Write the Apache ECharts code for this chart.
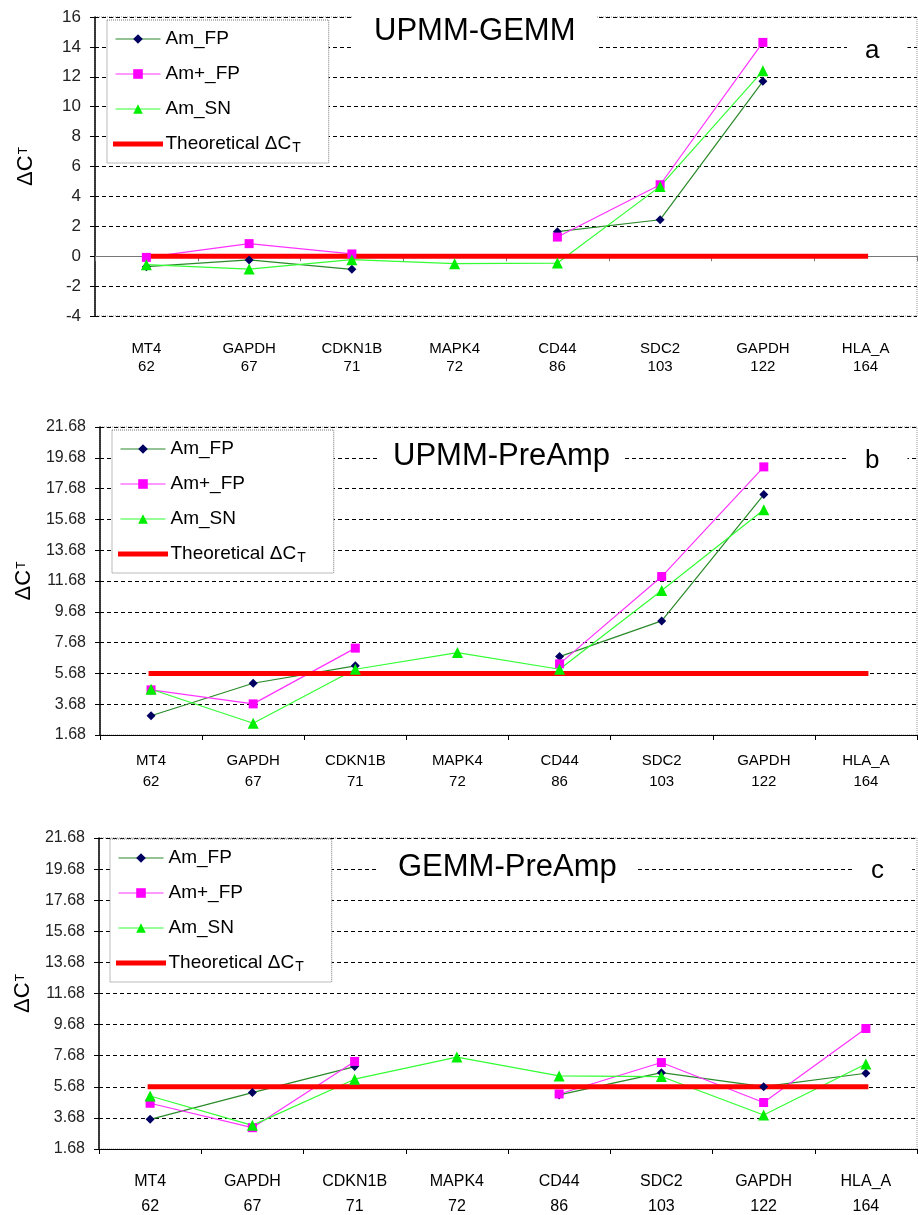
<!DOCTYPE html>
<html>
<head>
<meta charset="utf-8">
<script src="https://cdn.jsdelivr.net/npm/echarts@6/dist/echarts.min.js"></script>
<style>
html, body { margin: 0; padding: 0; background: #fff; }
#chart { width: 918px; height: 1215px; }
</style>
</head>
<body>
<div id="chart"></div>
<script>
const genes = ['MT4', 'GAPDH', 'CDKN1B', 'MAPK4', 'CD44', 'SDC2', 'GAPDH', 'HLA_A']
const ampliconSizes = [62, 67, 71, 72, 86, 103, 122, 164]

// a: UPMM-GEMM
const a_amFP = [-0.70, -0.25, -0.88, null, 1.64, 2.44, 11.7, null]
const a_amPlusFP = [-0.08, 0.84, 0.15, null, 1.28, 4.78, 14.3, null]
const a_amSN = [-0.57, -0.86, -0.23, -0.5, -0.46, 4.67, 12.4, null]
const a_theo = [0, 0, 0, 0, 0, 0, 0, 0]

// b: UPMM-PreAmp
const b_amFP = [2.93, 5.04, 6.17, null, 6.77, 9.09, 17.29, null]
const b_amPlusFP = [4.61, 3.70, 7.32, null, 6.30, 11.97, 19.09, null]
const b_amSN = [4.65, 2.44, 5.95, 7.03, 5.95, 11.06, 16.31, null]
const b_theo = [5.68, 5.68, 5.68, 5.68, 5.68, 5.68, 5.68, 5.68]

// c: GEMM-PreAmp
const c_amFP = [3.59, 5.31, 6.98, null, 5.16, 6.59, 5.69, 6.55]
const c_amPlusFP = [4.62, 3.05, 7.31, null, 5.22, 7.24, 4.67, 9.43]
const c_amSN = [5.09, 3.20, 6.17, 7.59, 6.38, 6.34, 3.87, 7.15]
const c_theo = [5.68, 5.68, 5.68, 5.68, 5.68, 5.68, 5.68, 5.68]

const THEO = 'Theoretical ΔCT'
const seriesNames = ['Am_FP', 'Am+_FP', 'Am_SN', THEO]
const xLabels = genes.map((g, i) => g + '\n' + ampliconSizes[i])

const FONT = 'Liberation Sans'

const panels = [
  {
    data: [a_amFP, a_amPlusFP, a_amSN, a_theo],
    title: 'UPMM-GEMM', titleBox: { left: 353, top: 11, padH: 21 },
    tag: 'a', tagBox: { left: 847, top: 34 },
    grid: { left: 95, top: 17, width: 822, height: 299 },
    y: { min: -4, max: 16, interval: 2, fontSize: 17, fmt: v => String(v) },
    xLine: '#777', xMargin: 24, xFont: 15, xLineHeight: 18,
    legend: { left: 107, top: 20 }
  },
  {
    data: [b_amFP, b_amPlusFP, b_amSN, b_theo],
    title: 'UPMM-PreAmp', titleBox: { left: 379, top: 436, padH: 14 },
    tag: 'b', tagBox: { left: 847, top: 444 },
    grid: { left: 100, top: 427, width: 817, height: 308 },
    y: { min: 1.68, max: 21.68, interval: 2, fontSize: 16, fmt: v => v.toFixed(2) },
    xLine: '#000', xMargin: 15, xFont: 15, xLineHeight: 21,
    legend: { left: 112, top: 430 }
  },
  {
    data: [c_amFP, c_amPlusFP, c_amSN, c_theo],
    title: 'GEMM-PreAmp', titleBox: { left: 378, top: 847, padH: 20 },
    tag: 'c', tagBox: { left: 853, top: 854 },
    grid: { left: 99, top: 838, width: 818, height: 311 },
    y: { min: 1.68, max: 21.68, interval: 2, fontSize: 16, fmt: v => v.toFixed(2) },
    xLine: '#000', xMargin: 20, xFont: 16, xLineHeight: 25,
    legend: { left: 110, top: 839 }
  }
]

const seriesStyles = [
  { symbol: 'diamond', symbolSize: 9, itemStyle: { color: '#000060' }, lineStyle: { color: '#2a8a2a', width: 1.2 } },
  { symbol: 'rect', symbolSize: 9, itemStyle: { color: '#ff00ff' }, lineStyle: { color: '#ff33ff', width: 1.2 } },
  { symbol: 'triangle', symbolSize: 11, itemStyle: { color: '#00ee00' }, lineStyle: { color: '#33ff33', width: 1.2 } },
  { symbol: 'none', itemStyle: { color: '#ff0000' }, lineStyle: { color: '#ff0000', width: 5, cap: 'square' } }
]

const legendData = seriesNames.map(n => n === THEO
  ? { name: n, itemStyle: { opacity: 0 }, lineStyle: { width: 5 } }
  : { name: n })

const grids = [], xAxes = [], yAxes = [], series = [], titles = [], legends = []

panels.forEach((p, i) => {
  grids.push({
    ...p.grid,
    outerBoundsMode: 'none',
    show: true,
    backgroundColor: 'transparent',
    borderColor: '#999',
    borderWidth: 1,
    borderType: 'dotted'
  })
  xAxes.push({
    gridIndex: i,
    type: 'category',
    data: xLabels,
    boundaryGap: true,
    axisLine: { onZero: true, lineStyle: { color: p.xLine, width: 1.2 } },
    axisTick: { show: true, length: 5, lineStyle: { color: p.xLine } },
    axisLabel: {
      interval: 0,
      margin: p.xMargin,
      fontFamily: FONT,
      fontSize: p.xFont,
      lineHeight: p.xLineHeight,
      color: '#000'
    },
    splitLine: { show: false }
  })
  yAxes.push({
    gridIndex: i,
    type: 'value',
    min: p.y.min,
    max: p.y.max,
    interval: p.y.interval,
    axisLine: { show: true, lineStyle: { color: '#000', width: 1.5 } },
    axisTick: { show: true, length: 5, lineStyle: { color: '#000' } },
    axisLabel: {
      margin: 14,
      fontFamily: FONT,
      fontSize: p.y.fontSize,
      color: '#222',
      formatter: p.y.fmt
    },
    splitLine: { show: true, lineStyle: { color: '#000', width: 1, type: [4, 3] } },
    name: '{d|ΔC}{t|T}',
    nameLocation: 'middle',
    nameRotate: 90,
    nameGap: 58,
    nameTextStyle: {
      rich: {
        d: { fontFamily: FONT, fontSize: 22, color: '#000' },
        t: { fontFamily: FONT, fontSize: 12, color: '#000', padding: [0, 0, 5, 1] }
      }
    }
  })
  p.data.forEach((vals, k) => {
    series.push({
      name: seriesNames[k],
      type: 'line',
      xAxisIndex: i,
      yAxisIndex: i,
      data: vals,
      connectNulls: false,
      showAllSymbol: true,
      ...seriesStyles[k]
    })
  })
  titles.push({
    text: p.title,
    left: p.titleBox.left,
    top: p.titleBox.top,
    padding: [2, p.titleBox.padH, 2, p.titleBox.padH],
    backgroundColor: '#fff',
    textStyle: { fontFamily: FONT, fontSize: 31, lineHeight: 36, fontWeight: 'normal', color: '#000' }
  })
  titles.push({
    text: p.tag,
    left: p.tagBox.left,
    top: p.tagBox.top,
    padding: [4, 28, 6, 18],
    backgroundColor: '#fff',
    textStyle: { fontFamily: FONT, fontSize: 26, lineHeight: 26, fontWeight: 'normal', color: '#000' }
  })
  legends.push({
    orient: 'vertical',
    left: p.legend.left,
    top: p.legend.top,
    padding: [8, 28, 8, 6],
    itemGap: 13,
    itemWidth: 45,
    itemHeight: 12,
    backgroundColor: '#fff',
    borderColor: '#777',
    borderWidth: 1,
    borderType: 'dotted',
    selectedMode: false,
    data: legendData,
    lineStyle: { width: 1.2 },
    formatter: name => name === THEO ? '{n|Theoretical ΔC}{s|T}' : name,
    textStyle: {
      fontFamily: FONT,
      fontSize: 19,
      lineHeight: 22,
      color: '#000',
      rich: {
        n: { fontFamily: FONT, fontSize: 19, color: '#000' },
        s: { fontFamily: FONT, fontSize: 14, color: '#000', padding: [8, 0, 0, 1] }
      }
    }
  })
})

const chart = echarts.init(document.getElementById('chart'), null, { renderer: 'canvas' })
chart.setOption({
  animation: false,
  backgroundColor: '#fff',
  title: titles,
  legend: legends,
  grid: grids,
  xAxis: xAxes,
  yAxis: yAxes,
  series: series
})
</script>
</body>
</html>
